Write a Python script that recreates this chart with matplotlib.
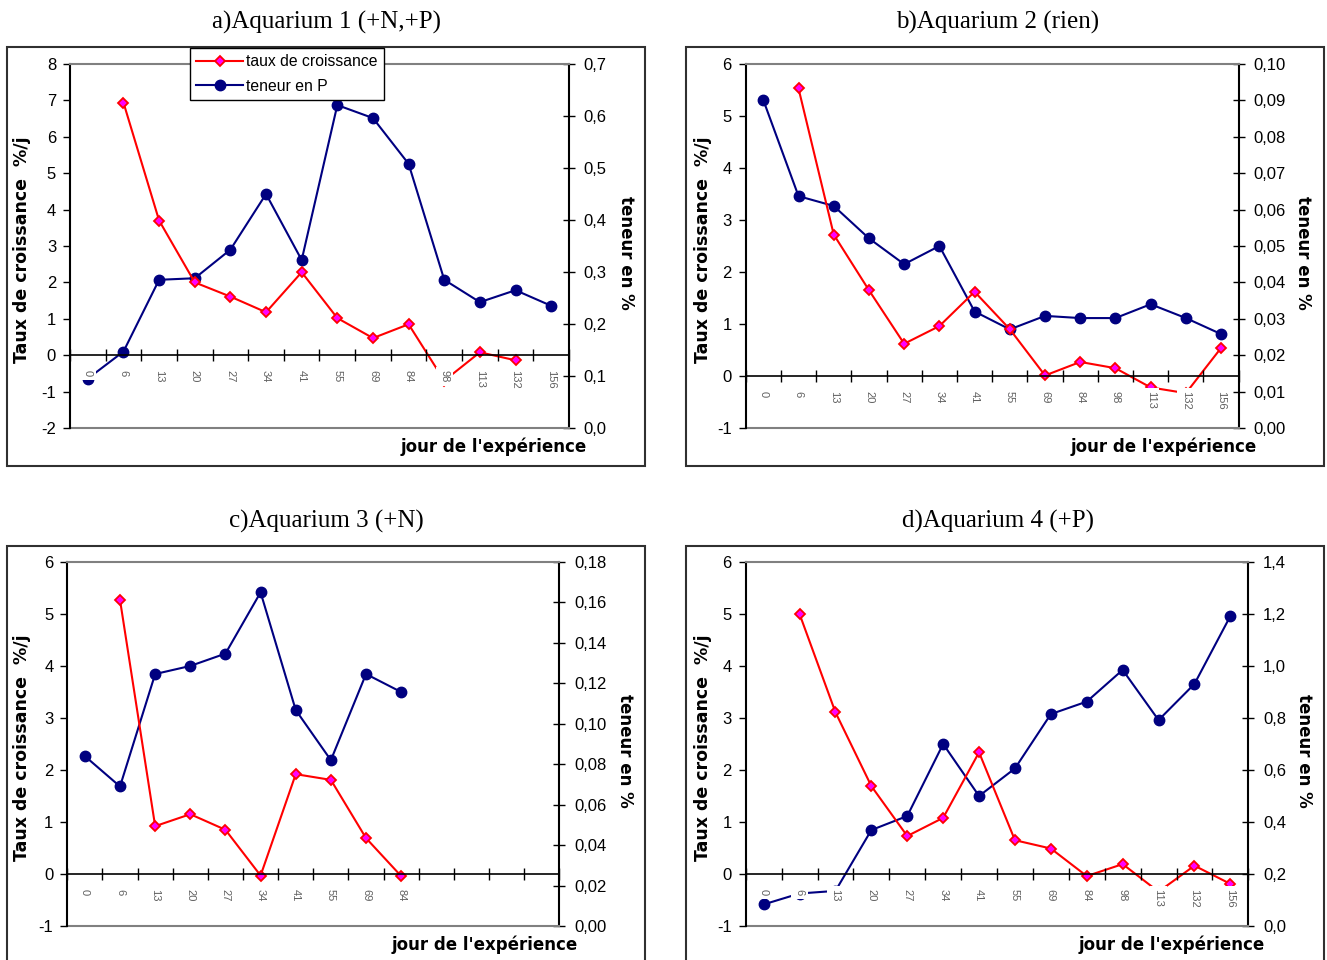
import numpy as np
import matplotlib.pyplot as plt
from matplotlib.patches import Rectangle
from matplotlib.ticker import FuncFormatter

plt.rcParams['font.family'] = ['Liberation Sans', 'DejaVu Sans']
plt.rcParams['axes.unicode_minus'] = False

W, H = 1327, 960
nan = np.nan

# jours de l'expérience (axe des catégories)
days = ['0', '6', '13', '20', '27', '34', '41', '55', '69', '84', '98', '113', '132', '156']

# a) Aquarium 1 (+N,+P)
a_taux = [nan, 6.94, 3.70, 2.00, 1.61, 1.18, 2.28, 1.02, 0.47, 0.85, -0.70, 0.08, -0.14, nan]
a_P = [0.095, 0.147, 0.285, 0.288, 0.343, 0.450, 0.323, 0.621, 0.596, 0.508, 0.285, 0.242, 0.265, 0.235]

# b) Aquarium 2 (rien)
b_taux = [nan, 5.53, 2.72, 1.65, 0.62, 0.96, 1.62, 0.90, 0.01, 0.27, 0.15, -0.22, -0.33, 0.54]
b_P = [0.0901, 0.0637, 0.0610, 0.0521, 0.0450, 0.0500, 0.0320, 0.0271, 0.0308, 0.0302, 0.0302, 0.0340, 0.0302, 0.0258]

# c) Aquarium 3 (+N)
c_taux = [nan, 5.27, 0.92, 1.15, 0.85, -0.03, 1.92, 1.81, 0.69, -0.04, nan, nan, nan, nan]
c_P = [0.084, 0.069, 0.1246, 0.1286, 0.1347, 0.165, 0.1068, 0.082, 0.1246, 0.1157, nan, nan, nan, nan]
c_days = days[:10] + [''] * 4

# d) Aquarium 4 (+P)
d_taux = [nan, 5.00, 3.11, 1.69, 0.73, 1.08, 2.34, 0.65, 0.49, -0.04, 0.19, -0.34, 0.16, -0.19]
d_P = [0.083, 0.125, 0.135, 0.369, 0.423, 0.700, 0.500, 0.606, 0.815, 0.863, 0.985, 0.792, 0.931, 1.192]

panels = [
    dict(title='a)Aquarium 1 (+N,+P)', taux=a_taux, P=a_P, labels=days,
         yl=(-2, 8), yr=(0, 0.7), rstep=0.1, rdec=1,
         ax=(70, 64, 569, 428), frame=(6.7, 47.3, 645, 466), tpos=(326, 22),
         ylx=22, yrx=626, xl=(587, 447), legend=True),
    dict(title='b)Aquarium 2 (rien)', taux=b_taux, P=b_P, labels=days,
         yl=(-1, 6), yr=(0, 0.10), rstep=0.01, rdec=2,
         ax=(745.7, 64, 1238.7, 428), frame=(685.7, 47.3, 1324, 466), tpos=(998, 22),
         ylx=703, yrx=1303, xl=(1257, 447), legend=False),
    dict(title='c)Aquarium 3 (+N)', taux=c_taux, P=c_P, labels=c_days,
         yl=(-1, 6), yr=(0, 0.18), rstep=0.02, rdec=2,
         ax=(67.3, 562, 559.3, 926), frame=(6.7, 545.7, 645, 975), tpos=(326, 521),
         ylx=22, yrx=625, xl=(578, 945), legend=False),
    dict(title='d)Aquarium 4 (+P)', taux=d_taux, P=d_P, labels=days,
         yl=(-1, 6), yr=(0, 1.4), rstep=0.2, rdec=1,
         ax=(745.7, 562, 1248.3, 926), frame=(685.7, 545.7, 1324, 975), tpos=(998, 521),
         ylx=703, yrx=1304, xl=(1265, 945), legend=False),
]


def rect(x0, y0, x1, y1):
    return [x0 / W, 1 - y1 / H, (x1 - x0) / W, (y1 - y0) / H]


fig = plt.figure(figsize=(W / 100, H / 100), dpi=100)

for p in panels:
    x0, y0, x1, y1 = p['ax']
    ax = fig.add_axes(rect(x0, y0, x1, y1))
    ax2 = ax.twinx()
    ax.set_zorder(ax2.get_zorder() + 1)
    ax.patch.set_visible(False)

    n = len(days)
    x = np.arange(n)
    l1, = ax.plot(x, p['taux'], color='#FF0000', lw=1.5, marker='D', ms=5.5,
                  mfc='#FF00FF', mec='#FF0000', mew=1.3, label='taux de croissance')
    l2, = ax2.plot(x, p['P'], color='#000080', lw=1.5, marker='o', ms=7.5,
                   mfc='#000080', mec='#000080', label='teneur en P')

    ax.set_xlim(-0.5, n - 0.5)
    ax.set_ylim(*p['yl'])
    ax2.set_ylim(*p['yr'])

    # spines (style Excel)
    ax.spines['bottom'].set_position(('data', 0))
    ax.spines['bottom'].set_linewidth(1.2)
    ax.spines['left'].set_linewidth(1.5)
    ax.spines['top'].set_color('#808080')
    ax.spines['top'].set_linewidth(1.5)
    ax.spines['right'].set_visible(False)
    ax2.spines['left'].set_visible(False)
    ax2.spines['top'].set_visible(False)
    ax2.spines['bottom'].set_color('#808080')
    ax2.spines['bottom'].set_linewidth(1.5)
    ax2.spines['right'].set_linewidth(1.5)

    # axe des x : graduations entre catégories, étiquettes au centre
    ax.set_xticks(np.arange(-0.5, n, 1))
    ax.set_xticklabels([])
    ax.set_xticks(x, p['labels'], minor=True)
    ax.tick_params(axis='x', which='major', direction='inout', length=9, width=1)
    ax.tick_params(axis='x', which='minor', length=0, labelrotation=-90,
                   labelsize=8, labelcolor='#606060', pad=11)
    for lbl in ax.get_xticklabels(minor=True):
        lbl.set_bbox(dict(facecolor='white', edgecolor='none', pad=2.5))
    ax.xaxis.set_zorder(4)

    lo, hi = p['yl']
    ax.set_yticks(np.arange(lo, hi + 1, 1))
    ax.tick_params(axis='y', direction='out', length=5, width=1, labelsize=12, pad=5)

    rlo, rhi = p['yr']
    nt = int(round((rhi - rlo) / p['rstep'])) + 1
    ax2.set_yticks(np.linspace(rlo, rhi, nt))
    ax2.yaxis.set_major_formatter(FuncFormatter(
        lambda v, pos, d=p['rdec']: f"{v:.{d}f}".replace('.', ',')))
    ax2.tick_params(axis='y', direction='inout', length=9, width=1, labelsize=12, pad=6)

    # titres des axes
    wpx, hpx = x1 - x0, y1 - y0
    ax.set_ylabel('Taux de croissance  %/j', fontsize=12.5, fontweight='bold',
                  family='DejaVu Sans', va='center')
    ax.yaxis.set_label_coords((p['ylx'] - x0) / wpx, 0.49)
    ax2.set_ylabel('teneur en %', fontsize=12, fontweight='bold', rotation=-90,
                   family='DejaVu Sans', va='center')
    ax2.yaxis.set_label_coords((p['yrx'] - x0) / wpx, 0.48)
    ax.set_xlabel("jour de l'expérience", fontsize=12, fontweight='bold',
                  family='DejaVu Sans', ha='right', va='center')
    ax.xaxis.set_label_coords((p['xl'][0] - x0) / wpx, (y1 - p['xl'][1]) / hpx)

    # cadre du graphique et titre
    fx0, fy0, fx1, fy1 = p['frame']
    fig.add_artist(Rectangle((fx0 / W, 1 - fy1 / H), (fx1 - fx0) / W, (fy1 - fy0) / H,
                             transform=fig.transFigure, fill=False,
                             edgecolor='#303030', lw=1.5))
    fig.text(p['tpos'][0] / W, 1 - p['tpos'][1] / H, p['title'],
             ha='center', va='center', fontsize=18, family='Liberation Serif')

    if p['legend']:
        leg = ax.legend([l1, l2], ['taux de croissance', 'teneur en P'],
                        loc='upper left', bbox_to_anchor=(190 / W, 1 - 48 / H),
                        bbox_transform=fig.transFigure, fontsize=11.3,
                        handlelength=3, handletextpad=0.2, labelspacing=0.6,
                        borderaxespad=0, borderpad=0.4, fancybox=False,
                        framealpha=1, edgecolor='black')
        leg.get_frame().set_linewidth(1)

fig.savefig('out.png', dpi=100)
